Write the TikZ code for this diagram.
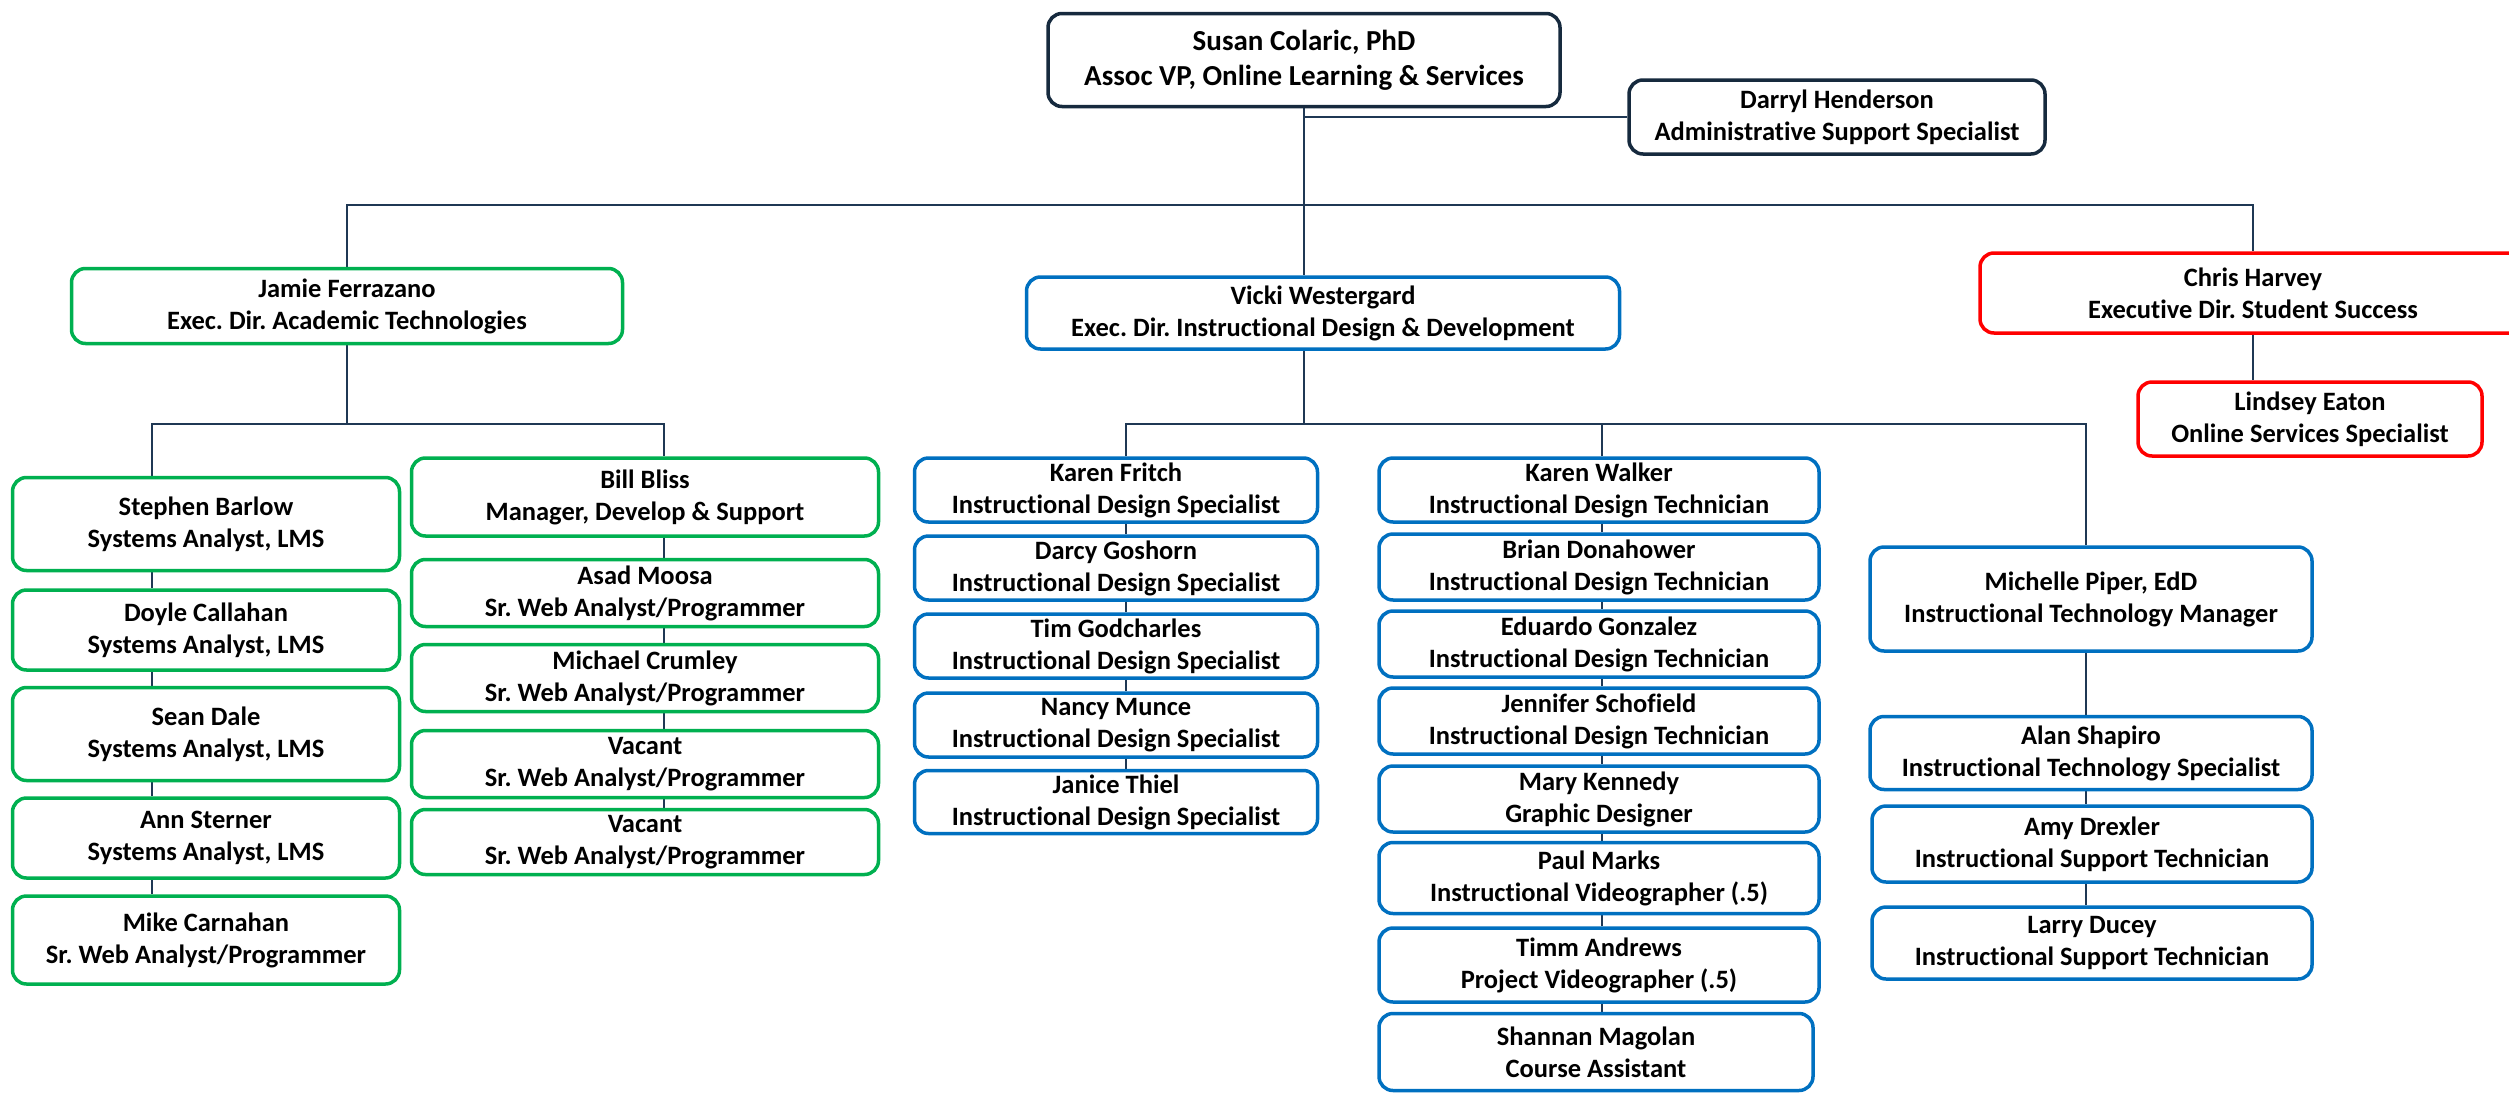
\documentclass[tikz,border=0pt]{standalone}
\usepackage{fontspec}
\setmainfont{Carlito}[Ligatures={NoCommon}]
\usetikzlibrary{backgrounds}
\frenchspacing

\definecolor{linknavy}{RGB}{31,56,84}
\definecolor{topnavy}{RGB}{22,42,62}
\definecolor{unitgreen}{RGB}{0,176,80}
\definecolor{unitblue}{RGB}{0,112,192}
\definecolor{unitred}{RGB}{255,0,0}

\tikzset{
  unit/.style={draw, rounded corners=14pt, line width=3.5pt, fill=white, align=center,
    inner sep=0pt, font=\bfseries\fontsize{26.5}{32}\selectfont},
  topunit/.style={unit, draw=topnavy, font=\bfseries\fontsize{29}{35}\selectfont},
  deskunit/.style={unit, draw=topnavy},
  headunit/.style={unit, font=\bfseries\fontsize{28}{34}\selectfont},
  greenunit/.style={unit, draw=unitgreen},
  blueunit/.style={unit, draw=unitblue},
  redunit/.style={unit, draw=unitred},
  link/.style={draw=linknavy, line width=2.5pt},
}

\begin{document}
\begin{tikzpicture}[x=1pt,y=1pt,yscale=-1]
\useasboundingbox (0,0) rectangle (2509,1095);

% Top
\node[topunit, minimum width=512pt, minimum height=93pt] (susan) at (1304,60) {Susan Colaric, PhD\\Assoc VP, Online Learning \& Services};
\node[deskunit, minimum width=416pt, minimum height=74pt] (darryl) at (1837,117) {Darryl Henderson\\Administrative Support Specialist};

% Directors
\node[headunit, greenunit, minimum width=551pt, minimum height=75pt] (jamie) at (347,306) {Jamie Ferrazano\\Exec. Dir. Academic Technologies};
\node[headunit, blueunit, minimum width=593pt, minimum height=72pt] (vicki) at (1323,313) {Vicki Westergard\\Exec. Dir. Instructional Design \& Development};
\node[headunit, redunit, minimum width=546pt, minimum height=80pt] (chris) at (2253,293) {Chris Harvey\\Executive Dir. Student Success};
\node[redunit, minimum width=344pt, minimum height=74pt] (lindsey) at (2310,419) {Lindsey Eaton\\Online Services Specialist};

% Academic Technologies, left column
\node[greenunit, minimum width=387pt, minimum height=93pt] (barlow) at (206,524) {Stephen Barlow\\Systems Analyst, LMS};
\node[greenunit, minimum width=387pt, minimum height=80pt] (callahan) at (206,630) {Doyle Callahan\\Systems Analyst, LMS};
\node[greenunit, minimum width=387pt, minimum height=93pt] (dale) at (206,734) {Sean Dale\\Systems Analyst, LMS};
\node[greenunit, minimum width=387pt, minimum height=80pt] (sterner) at (206,838) {Ann Sterner\\Systems Analyst, LMS};
\node[greenunit, minimum width=387pt, minimum height=88pt] (carnahan) at (206,940) {Mike Carnahan\\Sr. Web Analyst/Programmer};

% Academic Technologies, right column
\node[greenunit, minimum width=467pt, minimum height=78pt] (bliss) at (645,497) {Bill Bliss\\Manager, Develop \& Support};
\node[greenunit, minimum width=467pt, minimum height=67pt] (moosa) at (645,593) {Asad Moosa\\Sr. Web Analyst/Programmer};
\node[greenunit, minimum width=467pt, minimum height=67pt] (crumley) at (645,678) {Michael Crumley\\Sr. Web Analyst/Programmer};
\node[greenunit, minimum width=467pt, minimum height=67pt] (vacanta) at (645,764) {Vacant\\Sr. Web Analyst/Programmer};
\node[greenunit, minimum width=467pt, minimum height=65pt] (vacantb) at (645,842) {Vacant\\Sr. Web Analyst/Programmer};

% Instructional Design, first column
\node[blueunit, minimum width=403pt, minimum height=64pt] (fritch) at (1116,490) {Karen Fritch\\Instructional Design Specialist};
\node[blueunit, minimum width=403pt, minimum height=64pt] (goshorn) at (1116,568) {Darcy Goshorn\\Instructional Design Specialist};
\node[blueunit, minimum width=403pt, minimum height=64pt] (godcharles) at (1116,646) {Tim Godcharles\\Instructional Design Specialist};
\node[blueunit, minimum width=403pt, minimum height=64pt] (munce) at (1116,725) {Nancy Munce\\Instructional Design Specialist};
\node[blueunit, minimum width=403pt, minimum height=63pt] (thiel) at (1116,802) {Janice Thiel\\Instructional Design Specialist};

% Instructional Design, second column
\node[blueunit, minimum width=440pt, minimum height=64pt] (walker) at (1599,490) {Karen Walker\\Instructional Design Technician};
\node[blueunit, minimum width=440pt, minimum height=66pt] (donahower) at (1599,567) {Brian Donahower\\Instructional Design Technician};
\node[blueunit, minimum width=440pt, minimum height=66pt] (gonzalez) at (1599,644) {Eduardo Gonzalez\\Instructional Design Technician};
\node[blueunit, minimum width=440pt, minimum height=66pt] (schofield) at (1599,721) {Jennifer Schofield\\Instructional Design Technician};
\node[blueunit, minimum width=440pt, minimum height=66pt] (kennedy) at (1599,799) {Mary Kennedy\\Graphic Designer};
\node[blueunit, minimum width=440pt, minimum height=71pt] (marks) at (1599,878) {Paul Marks\\Instructional Videographer (.5)};
\node[blueunit, minimum width=440pt, minimum height=74pt] (andrews) at (1599,965) {Timm Andrews\\Project Videographer (.5)};
\node[blueunit, minimum width=434pt, minimum height=77pt] (magolan) at (1596,1052) {Shannan Magolan\\Course Assistant};

% Instructional Technology
\node[blueunit, minimum width=442pt, minimum height=104pt] (piper) at (2091,599) {Michelle Piper, EdD\\Instructional Technology Manager};
\node[blueunit, minimum width=442pt, minimum height=73pt] (shapiro) at (2091,753) {Alan Shapiro\\Instructional Technology Specialist};
\node[blueunit, minimum width=440pt, minimum height=76pt] (drexler) at (2092,844) {Amy Drexler\\Instructional Support Technician};
\node[blueunit, minimum width=440pt, minimum height=72pt] (ducey) at (2092,943) {Larry Ducey\\Instructional Support Technician};

% Branch points
\coordinate (spine) at (1304,205);
\coordinate (jbar) at (347,424);
\coordinate (jl) at (152,424);
\coordinate (jr) at (664,424);
\coordinate (vbar) at (1304,424);
\coordinate (vl) at (1126,424);
\coordinate (vm) at (1602,424);
\coordinate (vr) at (2086,424);

\begin{scope}[on background layer]
%Straight Lines
\draw[link] (susan.south) -- (susan.south |- vicki.north);
\draw[link] (susan.south |- darryl.west) -- (darryl.west);
\draw[link] (jamie.north) -- (jamie.north |- spine) -- (chris.north |- spine) -- (chris.north);
\draw[link] (chris.south) -- (chris.south |- lindsey.north);
%Straight Lines
\draw[link] (jamie.south) -- (jbar);
\draw[link] (jl |- barlow.north) -- (jl) -- (jr) -- (jr |- bliss.north);
\foreach \a/\b in {barlow/callahan, callahan/dale, dale/sterner, sterner/carnahan}
  \draw[link] (jl |- \a.south) -- (jl |- \b.north);
\foreach \a/\b in {bliss/moosa, moosa/crumley, crumley/vacanta, vacanta/vacantb}
  \draw[link] (jr |- \a.south) -- (jr |- \b.north);
%Straight Lines
\draw[link] (vbar |- vicki.south) -- (vbar);
\draw[link] (vl |- fritch.north) -- (vl) -- (vr) -- (vr |- piper.north);
\draw[link] (vm) -- (vm |- walker.north);
\foreach \a/\b in {fritch/goshorn, goshorn/godcharles, godcharles/munce, munce/thiel}
  \draw[link] (vl |- \a.south) -- (vl |- \b.north);
\foreach \a/\b in {walker/donahower, donahower/gonzalez, gonzalez/schofield, schofield/kennedy, kennedy/marks, marks/andrews, andrews/magolan}
  \draw[link] (vm |- \a.south) -- (vm |- \b.north);
\foreach \a/\b in {piper/shapiro, shapiro/drexler, drexler/ducey}
  \draw[link] (vr |- \a.south) -- (vr |- \b.north);
\end{scope}

\end{tikzpicture}
\end{document}
